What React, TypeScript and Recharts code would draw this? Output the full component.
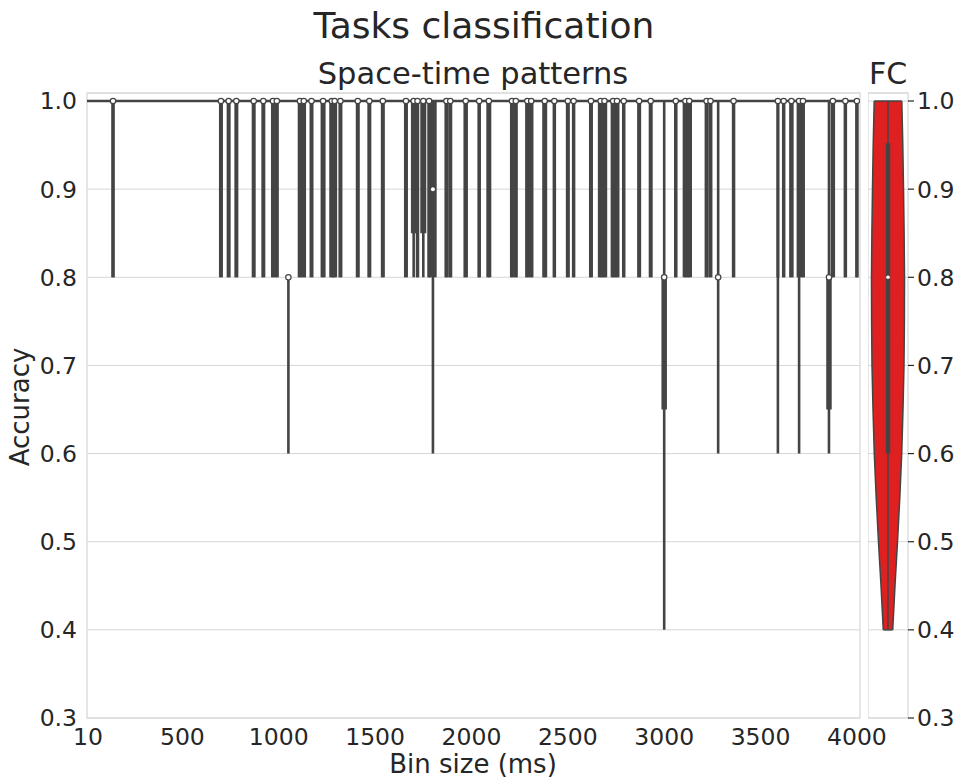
import {
  Area,
  CartesianGrid,
  ComposedChart,
  ReferenceArea,
  ReferenceDot,
  ReferenceLine,
  Scatter,
  XAxis,
  YAxis,
} from "recharts";

// Bin sizes (ms) that got their own violin in the space-time panel
const binSizes = [
  140, 700, 740, 780, 870, 920, 970, 990, 1050, 1110, 1130, 1170, 1230, 1275,
  1290, 1320, 1410, 1470, 1540, 1660, 1700, 1720, 1750, 1780, 1800, 1870, 1890,
  1970, 2040, 2090, 2210, 2230, 2290, 2310, 2380, 2430, 2500, 2530, 2620, 2670,
  2690, 2735, 2755, 2790, 2870, 2930, 3000, 3060, 3110, 3130, 3220, 3240, 3280,
  3360, 3590, 3620, 3660, 3700, 3720, 3855, 3875, 3940, 4000,
];

// Per-bin accuracy summaries (same order as binSizes)
const accMin = [
  0.8, 0.8, 0.8, 0.8, 0.8, 0.8, 0.8, 0.8, 0.6, 0.8, 0.8, 0.8, 0.8, 0.8,
  0.8, 0.8, 0.8, 0.8, 0.8, 0.8, 0.8, 0.8, 0.8, 0.8, 0.6, 0.8, 0.8,
  0.8, 0.8, 0.8, 0.8, 0.8, 0.8, 0.8, 0.8, 0.8, 0.8, 0.8, 0.8, 0.8,
  0.8, 0.8, 0.8, 0.8, 0.8, 0.8, 0.4, 0.8, 0.8, 0.8, 0.8, 0.8, 0.6,
  0.8, 0.6, 0.8, 0.8, 0.6, 0.8, 0.6, 0.8, 0.8, 0.8,
];
const accMax = binSizes.map((b) => (b === 1050 ? 0.8 : 1.0));
const accQ1 = [
  0.8, 0.8, 0.8, 0.8, 0.8, 0.8, 0.8, 0.8, 0.8, 0.8, 0.8, 0.8, 0.8, 0.8,
  0.8, 0.8, 0.8, 0.8, 0.8, 0.8, 0.85, 0.8, 0.85, 0.8, 0.8, 0.8, 0.8,
  0.8, 0.8, 0.8, 0.8, 0.8, 0.8, 0.8, 0.8, 0.8, 0.8, 0.8, 0.8, 0.8,
  0.8, 0.8, 0.8, 0.8, 0.8, 0.8, 0.65, 0.8, 0.8, 0.8, 0.8, 0.8, 0.8,
  0.8, 0.8, 0.8, 0.8, 0.8, 0.8, 0.65, 0.8, 0.8, 0.8,
];
const accQ3 = [
  1, 1, 1, 1, 1, 1, 1, 1, 0.8, 1, 1, 1, 1, 1,
  1, 1, 1, 1, 1, 1, 1, 1, 1, 1, 1, 1, 1,
  1, 1, 1, 1, 1, 1, 1, 1, 1, 1, 1, 1, 1,
  1, 1, 1, 1, 1, 1, 0.8, 1, 1, 1, 1, 1, 0.8,
  1, 1, 1, 1, 1, 1, 0.8, 1, 1, 1,
];
const accMedian = [
  1, 1, 1, 1, 1, 1, 1, 1, 0.8, 1, 1, 1, 1, 1,
  1, 1, 1, 1, 1, 1, 1, 1, 1, 1, 0.9, 1, 1,
  1, 1, 1, 1, 1, 1, 1, 1, 1, 1, 1, 1, 1,
  1, 1, 1, 1, 1, 1, 0.8, 1, 1, 1, 1, 1, 0.8,
  1, 1, 1, 1, 1, 1, 0.8, 1, 1, 1,
];

// FC violin: half-width of the density profile at each accuracy level
const fcAccuracy = [1.0, 0.95, 0.9, 0.85, 0.8, 0.75, 0.7, 0.65, 0.6, 0.55, 0.5, 0.45, 0.4];
const fcHalfWidth = [0.345, 0.37, 0.388, 0.403, 0.413, 0.41, 0.4, 0.375, 0.343, 0.295, 0.238, 0.175, 0.118];
const fcMin = 0.4;
const fcQ1 = 0.6;
const fcMedian = 0.8;
const fcQ3 = 0.952;
const fcMax = 1.0;

const xTicks = [10, 500, 1000, 1500, 2000, 2500, 3000, 3500, 4000];
const yTicks = [0.3, 0.4, 0.5, 0.6, 0.7, 0.8, 0.9, 1.0];
const yDomain: [number, number] = [0.3, 1.0091];

const colors = {
  ink: "#262626",
  violin: "#444444",
  grid: "#d6d6d6",
  fc: "#df2020",
};
const font = "'DejaVu Sans', sans-serif";

// body thickness in px for the heavier violins, everything else uses the default
const bodyWidth: Record<number, number> = {
  140: 3.5, 1110: 4.5, 1130: 4.5, 1230: 5, 1275: 5, 1290: 5, 1700: 5.5, 1720: 3.5,
  1750: 6, 1780: 3.5, 1800: 7.5, 1970: 4.5, 2040: 3.5, 2090: 5, 2290: 4.5, 2310: 4.5,
  2380: 5, 2430: 3.5, 2530: 3.5, 2670: 5.5, 2690: 5.5, 2735: 5, 2755: 5, 2790: 3.5,
  3000: 5.5, 3060: 3.5, 3110: 5.5, 3130: 5.5, 3360: 3.5, 3590: 3, 3620: 3.5, 3660: 4.5,
  3700: 5, 3855: 5.5, 3875: 4.5, 3940: 3.5, 4000: 3.5,
};
const stemWidth = 2.6;

const violins = binSizes.map((bin, i) => ({
  bin,
  min: accMin[i],
  max: accMax[i],
  q1: accQ1[i],
  q3: accQ3[i],
  med: accMedian[i],
}));

const fcData = fcAccuracy.map((acc, i) => ({
  acc,
  span: [-fcHalfWidth[i], fcHalfWidth[i]],
}));

const tickStyle = { fill: colors.ink, fontSize: 23.5, fontFamily: font };

const MedianDot = (props: any) => {
  const { cx, cy, payload } = props;
  if (cx == null || cy == null) return <g />;
  const insideBox = payload.med > payload.q1 && payload.med < payload.q3;
  if (insideBox) return <circle cx={cx} cy={cy} r={2} fill="#ffffff" />;
  return (
    <circle cx={cx} cy={cy} r={2.7} fill="#ffffff" stroke={colors.violin} strokeWidth={1.2} />
  );
};

const SpacePanel = () => (
  <ComposedChart
    width={968}
    height={779}
    data={violins}
    margin={{ top: 93, right: 108, bottom: 0, left: 0 }}
  >
    <CartesianGrid stroke={colors.grid} vertical={false} />
    <XAxis
      dataKey="bin"
      type="number"
      domain={[5, 4016]}
      allowDataOverflow
      ticks={xTicks}
      interval={0}
      axisLine={false}
      tickLine={false}
      tickSize={0}
      tickMargin={10}
      height={61}
      tick={tickStyle}
    />
    <YAxis
      type="number"
      domain={yDomain}
      allowDataOverflow
      ticks={yTicks}
      interval={0}
      axisLine={false}
      tickLine={false}
      tickSize={0}
      tickMargin={10}
      width={87}
      tick={tickStyle}
      tickFormatter={(v) => Number(v).toFixed(1)}
    />
    <ReferenceArea
      x1={5}
      x2={4016}
      y1={yDomain[0]}
      y2={yDomain[1]}
      fill="none"
      stroke={colors.grid}
      strokeWidth={1.2}
    />
    <ReferenceLine y={1} stroke={colors.violin} strokeWidth={2.5} />
    {violins.map((v) => (
      <ReferenceLine
        key={`stem-${v.bin}`}
        segment={[
          { x: v.bin, y: v.min },
          { x: v.bin, y: v.max },
        ]}
        stroke={colors.violin}
        strokeWidth={stemWidth}
      />
    ))}
    {violins
      .filter((v) => v.q3 > v.q1)
      .map((v) => (
        <ReferenceLine
          key={`body-${v.bin}`}
          segment={[
            { x: v.bin, y: v.q1 },
            { x: v.bin, y: v.q3 },
          ]}
          stroke={colors.violin}
          strokeWidth={bodyWidth[v.bin] ?? 4}
        />
      ))}
    <Scatter dataKey="med" data={violins} shape={MedianDot} isAnimationActive={false} />
  </ComposedChart>
);

const FcPanel = () => (
  <ComposedChart
    layout="vertical"
    width={100}
    height={779}
    data={fcData}
    margin={{ top: 93, right: 0, bottom: 61, left: 0 }}
  >
    <CartesianGrid stroke={colors.grid} vertical={false} />
    <XAxis type="number" domain={[-0.5, 0.5]} allowDataOverflow hide />
    <YAxis
      dataKey="acc"
      type="number"
      orientation="right"
      reversed
      domain={yDomain}
      allowDataOverflow
      ticks={yTicks}
      interval={0}
      axisLine={false}
      tickLine={{ stroke: colors.ink, strokeWidth: 1.2 }}
      tickSize={6}
      tickMargin={3}
      width={60}
      tick={{ ...tickStyle, textAnchor: "start" }}
      tickFormatter={(v) => Number(v).toFixed(1)}
    />
    <ReferenceArea
      x1={-0.5}
      x2={0.5}
      y1={yDomain[0]}
      y2={yDomain[1]}
      fill="none"
      stroke={colors.grid}
      strokeWidth={1.2}
    />
    <Area
      dataKey="span"
      type="linear"
      fill={colors.fc}
      fillOpacity={1}
      stroke={colors.violin}
      strokeWidth={1.5}
      isAnimationActive={false}
    />
    <ReferenceLine
      segment={[
        { x: -fcHalfWidth[0], y: fcMax },
        { x: fcHalfWidth[0], y: fcMax },
      ]}
      stroke={colors.violin}
      strokeWidth={1.5}
    />
    <ReferenceLine
      segment={[
        { x: -fcHalfWidth[fcHalfWidth.length - 1], y: fcMin },
        { x: fcHalfWidth[fcHalfWidth.length - 1], y: fcMin },
      ]}
      stroke={colors.violin}
      strokeWidth={1.5}
    />
    <ReferenceLine
      segment={[
        { x: 0, y: fcMin },
        { x: 0, y: fcMax },
      ]}
      stroke={colors.violin}
      strokeWidth={1.5}
    />
    <ReferenceLine
      segment={[
        { x: 0, y: fcQ1 },
        { x: 0, y: fcQ3 },
      ]}
      stroke={colors.violin}
      strokeWidth={4.5}
    />
    <ReferenceDot x={0} y={fcMedian} r={1.8} fill="#ffffff" stroke="none" />
  </ComposedChart>
);

export default function App() {
  return (
    <div
      style={{
        position: "absolute",
        left: 0,
        top: 0,
        width: 968,
        height: 779,
        background: "#ffffff",
        fontFamily: font,
      }}
    >
      <div style={{ position: "absolute", left: 0, top: 0 }}>
        <SpacePanel />
      </div>
      <div style={{ position: "absolute", left: 868, top: 0 }}>
        <FcPanel />
      </div>
      <svg
        width={968}
        height={779}
        style={{ position: "absolute", left: 0, top: 0, pointerEvents: "none" }}
        fontFamily={font}
        fill={colors.ink}
      >
        <text x={484} y={38} fontSize={36} textAnchor="middle">
          Tasks classification
        </text>
        <text x={473} y={84} fontSize={30.5} textAnchor="middle">
          Space-time patterns
        </text>
        <text x={888} y={84} fontSize={30} textAnchor="middle">
          FC
        </text>
        <text x={473} y={773} fontSize={26} textAnchor="middle">
          Bin size (ms)
        </text>
        <text x={29} y={407} fontSize={26} textAnchor="middle" transform="rotate(-90 29 407)">
          Accuracy
        </text>
      </svg>
    </div>
  );
}
